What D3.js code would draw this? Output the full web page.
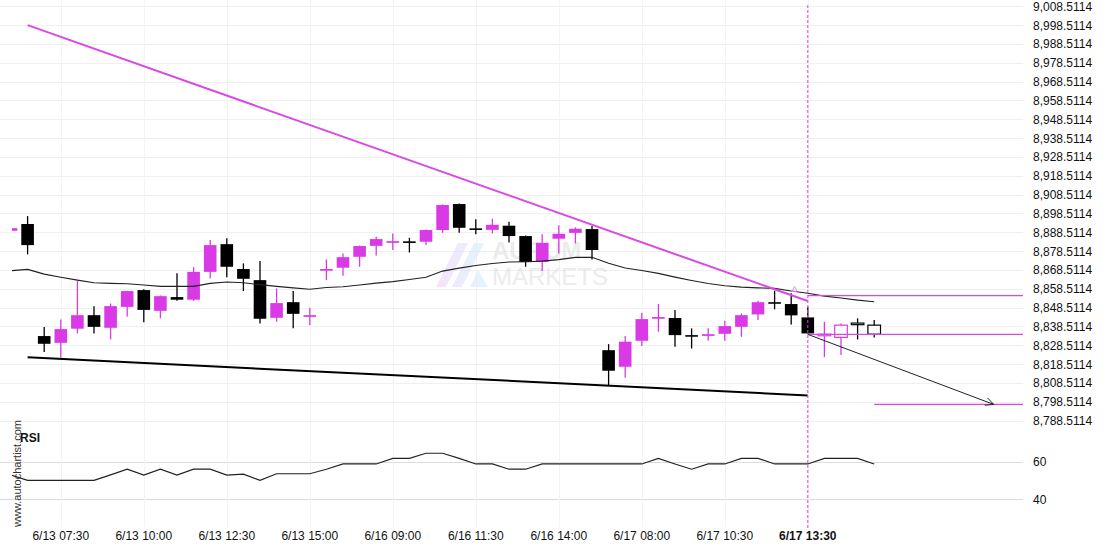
<!DOCTYPE html>
<html>
<head>
<meta charset="utf-8">
<script src="https://cdn.jsdelivr.net/npm/d3@7/dist/d3.min.js"></script>
<style>
  body { margin: 0; background: #fff; }
  text { font-family: "Liberation Sans", Arial, sans-serif; }
</style>
</head>
<body>
<svg id="chart" width="1110" height="550"></svg>
<script>
// candles, 30 minute bars, index 0..52
const opens = [8889.3, 8892.9, 8833.4, 8829.8, 8837.3, 8844.5, 8837.8, 8848.9, 8857.8, 8846.8,
  8854.1, 8852.7, 8867.5, 8882.2, 8869.0, 8863.1, 8843.1, 8851.4, 8843.6, 8868.1,
  8869.7, 8875.5, 8881.3, 8882.9, 8883.7, 8883.5, 8889.7, 8903.5, 8890.6, 8889.8,
  8892.0, 8886.5, 8872.8, 8885.1, 8888.2, 8890.2, 8825.9, 8817.1, 8830.9, 8842.6,
  8843.0, 8833.9, 8833.5, 8834.6, 8838.3, 8844.9, 8851.4, 8850.4, 8843.3, 8833.8,
  8832.7, 8840.3, 8839.2];
const highs = [8891.0, 8897.1, 8838.2, 8842.2, 8862.6, 8849.2, 8850.7, 8857.5, 8858.3, 8855.0,
  8866.8, 8870.0, 8884.4, 8885.3, 8872.0, 8873.2, 8858.7, 8857.3, 8848.4, 8874.1,
  8877.3, 8881.5, 8886.1, 8887.9, 8885.6, 8890.0, 8903.3, 8903.8, 8895.4, 8895.7,
  8894.1, 8886.8, 8887.4, 8892.3, 8891.1, 8891.8, 8829.1, 8833.4, 8845.8, 8850.4,
  8847.2, 8837.5, 8837.5, 8841.5, 8845.4, 8852.1, 8857.4, 8856.1, 8849.0, 8841.0,
  8840.1, 8842.8, 8841.9];
const lows = [8889.0, 8876.8, 8825.0, 8821.9, 8834.8, 8834.8, 8831.6, 8843.6, 8840.7, 8842.8,
  8852.1, 8852.1, 8864.0, 8864.6, 8857.3, 8840.1, 8841.0, 8837.5, 8839.1, 8863.1,
  8865.4, 8870.2, 8876.2, 8879.1, 8877.8, 8881.7, 8888.2, 8888.2, 8887.4, 8887.9,
  8883.1, 8870.2, 8867.9, 8877.3, 8882.6, 8874.1, 8807.4, 8811.2, 8828.1, 8835.7,
  8827.7, 8826.8, 8830.9, 8830.9, 8833.0, 8841.9, 8847.6, 8839.6, 8834.8, 8822.2,
  8823.3, 8831.6, 8832.7];
const closes = [8890.7, 8881.7, 8829.3, 8837.1, 8844.5, 8838.3, 8849.3, 8857.3, 8847.3, 8854.6,
  8852.7, 8867.5, 8881.7, 8870.2, 8863.8, 8842.6, 8850.9, 8845.2, 8844.5, 8869.0,
  8875.3, 8881.2, 8884.9, 8883.8, 8883.1, 8889.7, 8903.0, 8890.9, 8889.8, 8892.5,
  8886.5, 8872.7, 8882.9, 8887.7, 8890.4, 8879.1, 8815.0, 8830.4, 8842.4, 8843.5,
  8833.9, 8833.4, 8834.4, 8838.7, 8844.5, 8851.4, 8850.9, 8844.4, 8834.8, 8834.4,
  8839.2, 8839.9, 8834.4];
// moving average drawn over the candles
const maVals = [8868.1, 8868.8, 8866.3, 8864.6, 8863.1, 8861.7, 8861.4, 8861.2, 8860.5, 8859.8,
  8859.8, 8859.8, 8861.4, 8862.1, 8861.7, 8860.7, 8859.8, 8859.0, 8858.3, 8859.2,
  8859.6, 8860.5, 8861.5, 8862.3, 8863.4, 8864.6, 8867.9, 8869.5, 8870.9, 8871.9,
  8872.7, 8872.9, 8873.2, 8874.0, 8875.2, 8875.2, 8872.1, 8869.5, 8868.2, 8866.7,
  8864.7, 8862.9, 8861.3, 8860.1, 8859.4, 8859.0, 8858.7, 8857.3, 8856.1, 8854.6,
  8853.6, 8852.5, 8851.6];
const rsiVals = [52.9, 50.1, 50.1, 50.1, 50.1, 50.1, 53.0, 56.0, 52.9, 56.0,
  52.9, 56.0, 56.0, 52.9, 53.4, 50.1, 53.6, 53.6, 53.6, 56.0,
  58.8, 58.8, 58.8, 61.8, 61.8, 64.5, 64.5, 61.8, 58.8, 58.8,
  56.0, 56.0, 58.8, 58.8, 58.8, 58.8, 58.8, 58.8, 58.8, 61.8,
  58.8, 56.0, 58.8, 58.8, 61.8, 61.8, 58.8, 58.8, 58.8, 61.8,
  61.8, 61.8, 58.8];

const tickIdx = [3, 8, 13, 18, 23, 28, 33, 38, 43, 48];
const tickLabels = ["6/13 07:30", "6/13 10:00", "6/13 12:30", "6/13 15:00", "6/16 09:00",
  "6/16 11:30", "6/16 14:00", "6/17 08:00", "6/17 10:30", "6/17 13:30"];
const priceTicks = d3.range(0, 23).map(k => 8788.5114 + k * 10);
const rsiTicks = [40, 60];

// pattern lines: [index, price]
const upperTrend = [[1, 8998.5], [48, 8852.0]];
const lowerTrend = [[1, 8822.1], [48, 8801.9]];
const breakIdx = 48;
const levelHigh = 8854.9;
const levelBreak = 8834.3;
const levelTarget = 8797.1;
const arrowEnd = [59.2, 8797.1];
const hollowFrom = 49;

const pink = "#d93ae6";
const lineMag = "#d94ae4";

const svg = d3.select("#chart");
const plotLeft = 12, plotRight = 1023;

const x = d3.scaleLinear().domain([0, 52]).range([11, 874.2]);
const y = d3.scaleLinear().domain([8788.5114, 9008.5114]).range([420.6, 6.3]);
const yr = d3.scaleLinear().domain([40, 60]).range([499.3, 461.7]);

svg.append("defs").append("clipPath").attr("id", "clip")
  .append("rect").attr("x", plotLeft).attr("y", 0).attr("width", plotRight - plotLeft).attr("height", 530);

// grid
const grid = svg.append("g");
grid.selectAll(".hg").data(priceTicks).enter().append("line")
  .attr("x1", 0).attr("x2", plotRight)
  .attr("y1", d => Math.round(y(d)) + 0.5).attr("y2", d => Math.round(y(d)) + 0.5)
  .attr("stroke", "#f0f0f0");
grid.selectAll(".rg").data(rsiTicks).enter().append("line")
  .attr("x1", 0).attr("x2", plotRight)
  .attr("y1", d => Math.round(yr(d)) + 0.5).attr("y2", d => Math.round(yr(d)) + 0.5)
  .attr("stroke", "#dcdcdc");
grid.selectAll(".vg").data(tickIdx).enter().append("line")
  .attr("x1", d => Math.round(x(d)) + 0.5).attr("x2", d => Math.round(x(d)) + 0.5)
  .attr("y1", 0).attr("y2", 527)
  .attr("stroke", "#f3f3f3");

// watermark
const wm = svg.append("g").attr("opacity", 0.5);
const grad = svg.select("defs").append("linearGradient").attr("id", "wmg")
  .attr("x1", "0").attr("x2", "1").attr("y1", "0").attr("y2", "0");
grad.append("stop").attr("offset", "0").attr("stop-color", "#f3c6f7");
grad.append("stop").attr("offset", "1").attr("stop-color", "#c4f0fb");
wm.append("path")
  .attr("d", "M436,287 L458,243 L468,243 L446,287 Z M452,287 L474,243 L484,243 L462,287 Z M470,287 L478,270 L488,287 Z")
  .attr("fill", "url(#wmg)");
wm.append("text").attr("x", 492).attr("y", 259).attr("font-size", 24).attr("font-weight", "bold")
  .attr("fill", "#dadada").text("AURUM");
wm.append("text").attr("x", 492).attr("y", 285).attr("font-size", 24)
  .attr("fill", "#dadada").text("MARKETS");

const plot = svg.append("g").attr("clip-path", "url(#clip)");

// candles
const data = opens.map((o, i) => ({ i, o, h: highs[i], l: lows[i], c: closes[i] }));
const bw = 12.6;
const cand = plot.selectAll(".cd").data(data).enter().append("g");
cand.append("line")
  .attr("x1", d => x(d.i)).attr("x2", d => x(d.i))
  .attr("y1", d => y(d.h)).attr("y2", d => y(d.l))
  .attr("stroke", d => d.c >= d.o ? pink : "#000").attr("stroke-width", 1.3);
cand.append("rect")
  .attr("x", d => x(d.i) - bw / 2)
  .attr("width", bw)
  .attr("y", d => y(Math.max(d.o, d.c)))
  .attr("height", d => Math.max(1.6, Math.abs(y(d.o) - y(d.c))))
  .attr("fill", d => d.i >= hollowFrom ? "#fff" : (d.c >= d.o ? pink : "#000"))
  .attr("stroke", d => d.i >= hollowFrom ? (d.c >= d.o ? pink : "#000") : "none")
  .attr("stroke-width", 1.2);

// moving average
plot.append("path").datum(maVals)
  .attr("d", d3.line().x((d, i) => x(i)).y(d => y(d)))
  .attr("fill", "none").attr("stroke", "#222").attr("stroke-width", 1.1);

// trend lines
const tl = d3.line().x(d => x(d[0])).y(d => y(d[1]));
plot.append("path").datum(upperTrend).attr("d", tl)
  .attr("stroke", lineMag).attr("stroke-width", 2).attr("fill", "none");
plot.append("path").datum(lowerTrend).attr("d", tl)
  .attr("stroke", "#000").attr("stroke-width", 2).attr("fill", "none");

// levels
svg.append("line").attr("x1", x(breakIdx)).attr("x2", plotRight)
  .attr("y1", y(levelHigh)).attr("y2", y(levelHigh)).attr("stroke", lineMag).attr("stroke-width", 1.2);
svg.append("line").attr("x1", x(breakIdx)).attr("x2", plotRight)
  .attr("y1", y(levelBreak)).attr("y2", y(levelBreak)).attr("stroke", lineMag).attr("stroke-width", 1.2);
svg.append("line").attr("x1", x(52)).attr("x2", plotRight)
  .attr("y1", y(levelTarget)).attr("y2", y(levelTarget)).attr("stroke", lineMag).attr("stroke-width", 1.2);

// forecast arrow
const ax0 = x(breakIdx), ay0 = y(levelBreak), ax1 = x(arrowEnd[0]), ay1 = y(arrowEnd[1]);
svg.append("line").attr("x1", ax0).attr("y1", ay0).attr("x2", ax1).attr("y2", ay1)
  .attr("stroke", "#222").attr("stroke-width", 1);
const ang = Math.atan2(ay1 - ay0, ax1 - ax0);
const hl = 9;
svg.append("path")
  .attr("d", `M${ax1 - hl * Math.cos(ang - 0.45)},${ay1 - hl * Math.sin(ang - 0.45)} L${ax1},${ay1} L${ax1 - hl * Math.cos(ang + 0.45)},${ay1 - hl * Math.sin(ang + 0.45)}`)
  .attr("fill", "none").attr("stroke", "#222").attr("stroke-width", 1);

// small marker above the last touch
const mx = x(47.2), my = y(highs[47]) - 4;
svg.append("path").attr("d", `M${mx - 2.5},${my + 2} L${mx},${my - 3} L${mx + 2.5},${my + 2} Z`)
  .attr("fill", "none").attr("stroke", "#e58ced").attr("stroke-width", 1);

// breakout time marker
svg.append("line").attr("x1", x(breakIdx)).attr("x2", x(breakIdx)).attr("y1", 5).attr("y2", 528)
  .attr("stroke", "#e040ee").attr("stroke-width", 1).attr("stroke-dasharray", "3,2");

// RSI
plot.append("path").datum(rsiVals)
  .attr("d", d3.line().x((d, i) => x(i)).y(d => yr(d)))
  .attr("fill", "none").attr("stroke", "#222").attr("stroke-width", 1.2);

svg.append("text").attr("x", 20).attr("y", 442).attr("font-size", 12).attr("font-weight", "bold")
  .attr("fill", "#111").text("RSI");
svg.append("text").attr("transform", "translate(21,527) rotate(-90)")
  .attr("font-size", 11).attr("fill", "#333").text("www.autochartist.com");

// axes labels
const priceFmt = d3.format(",.4f");
svg.append("g").selectAll("text").data(priceTicks).enter().append("text")
  .attr("x", 1033).attr("y", d => y(d) + 4.5)
  .attr("font-size", 12).attr("fill", "#111").text(d => priceFmt(d));
svg.append("g").selectAll("text").data(rsiTicks).enter().append("text")
  .attr("x", 1033).attr("y", d => yr(d) + 4.5)
  .attr("font-size", 12).attr("fill", "#111").text(d => d);

svg.append("g").selectAll("text").data(tickIdx).enter().append("text")
  .attr("x", d => x(d)).attr("y", 540).attr("text-anchor", "middle")
  .attr("font-size", 12).attr("fill", "#111")
  .attr("font-weight", (d, k) => k === tickIdx.length - 1 ? "bold" : "normal")
  .text((d, k) => tickLabels[k]);
</script>
</body>
</html>
